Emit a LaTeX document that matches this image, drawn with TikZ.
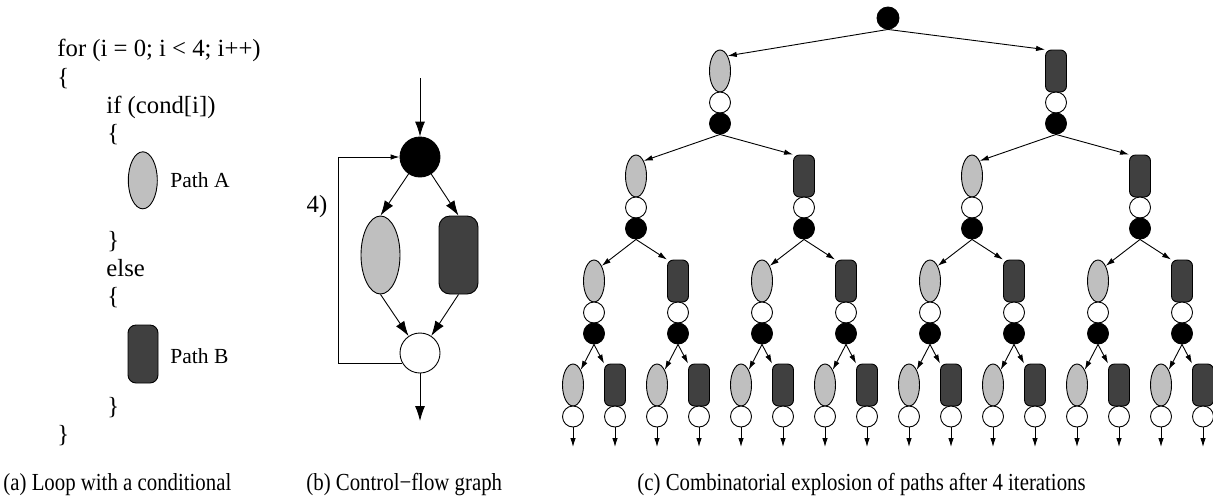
\documentclass[tikz,border=0pt]{standalone}
\usepackage{fontspec}
\setmainfont{Liberation Serif}
\newfontfamily\legfont[FakeStretch=0.85]{Liberation Serif}
\usetikzlibrary{shapes.geometric,arrows.meta}

\definecolor{cinzaA}{gray}{0.75}
\definecolor{cinzaB}{gray}{0.25}

\tikzset{
  codigo/.style={anchor=base west, inner sep=0pt, font=\fontsize{24.7}{30}\selectfont},
  rotulo/.style={anchor=west, inner sep=0pt, font=\fontsize{21.5}{26}\selectfont},
  legenda/.style={anchor=base west, inner sep=0pt, font=\legfont\fontsize{24.5}{29}\selectfont},
  pathA/.style={ellipse, draw, fill=cinzaA, inner sep=0pt},
  pathB/.style={rectangle, draw, fill=cinzaB, inner sep=0pt},
  junta/.style={circle, draw, fill=white, inner sep=0pt},
  decide/.style={circle, draw, fill=black, inner sep=0pt},
  seta/.style={-{Latex[length=9pt, width=5.5pt]}},
  setag/.style={-{Latex[length=15pt, width=10pt]}},
  caminho/.code={\ifodd#1\relax\pgfkeysalso{pathA}\else\pgfkeysalso{pathB, rounded corners=6pt}\fi},
}

\begin{document}
\begin{tikzpicture}[x=1pt, y=-1pt, line width=0.9pt]
\useasboundingbox (0,0) rectangle (1213,499);

% Laço com condicional
\node[codigo] (l1) at (57,56) {for (i = 0; i < 4; i++)};
\node[codigo] (l2) at (57,85) {\{};
\node[codigo] (l3) at (106,113) {if (cond[i])};
\node[codigo] (l4) at (107,141) {\{};
\node[pathA, minimum width=29pt, minimum height=57pt] (ea) at (142.8,180.3) {};
\node[rotulo] (ta) at (170,180) {Path A};
\node[codigo] (l5) at (107,248) {\}};
\node[codigo] (l6) at (106,276) {else};
\node[codigo] (l7) at (107,304) {\{};
\node[pathB, rounded corners=8pt, minimum width=30pt, minimum height=58pt] (eb) at (143,354) {};
\node[rotulo] (tb) at (170,356.5) {Path B};
\node[codigo] (l8) at (107,414) {\}};
\node[codigo] (l9) at (57,442) {\}};

% Grafo de controle
\node[decide, minimum size=40pt] (K) at (420,157) {};
\node[pathA, minimum width=39pt, minimum height=78pt] (A) at (380.5,255) {};
\node[pathB, rounded corners=11pt, minimum width=39pt, minimum height=78pt] (B) at (458.5,255) {};
\node[junta, minimum size=40pt] (W) at (420,353) {};
\node[codigo, anchor=center] (n) at (317,207) {4)};
\coordinate (entra) at (420,78);
\coordinate (sai) at (420,421);
\coordinate (volta) at (338,157);

\draw[setag] (entra) -- (K);
\draw[setag] (K) -- (A.north);
\draw[setag] (K) -- (B.north);
\draw[setag] (A.south) -- (W);
\draw[setag] (B.south) -- (W);
\draw[setag] (W) -- (sai);
\draw[seta] (W.210) -| (volta) -- (K.west);

% Arvore de caminhos
\node[decide, minimum size=22pt] (d0-1) at (888,18) {};
\foreach \l/\t/\s/\m in {1/50/336/2, 2/155/168/4, 3/260/84/8, 4/364/42/16} {
  \foreach \k in {1,...,\m} {
    \pgfmathsetmacro\x{888+\s/2*(2*\k-1-\m)}
    \pgfmathtruncatemacro\pai{(\k+1)/2}
    \pgfmathtruncatemacro\lp{\l-1}
    \node[caminho=\k, minimum width=21pt, minimum height=42pt] (p\l-\k) at (\x,\t+21) {};
    \node[junta, minimum size=21pt] (w\l-\k) at (\x,\t+52.5) {};
    \ifodd\k
      \draw[seta] (d\lp-\pai.south) -- (p\l-\k.north east);
    \else
      \draw[seta] (d\lp-\pai.south) -- (p\l-\k.north west);
    \fi
    \ifnum\l<4
      \node[decide, minimum size=21pt] (d\l-\k) at (\x,\t+73.5) {};
    \else
      \coordinate (fim\k) at (\x,447);
      \draw[seta] (w\l-\k) -- (fim\k);
    \fi
  }
}

% Legendas
\node[legenda] (ca) at (3,490) {(a) Loop with a conditional};
\node[legenda] (cb) at (306,490) {(b) Control−flow graph};
\node[legenda] (cc) at (637,490) {(c) Combinatorial explosion of paths after 4 iterations};

\end{tikzpicture}
\end{document}
